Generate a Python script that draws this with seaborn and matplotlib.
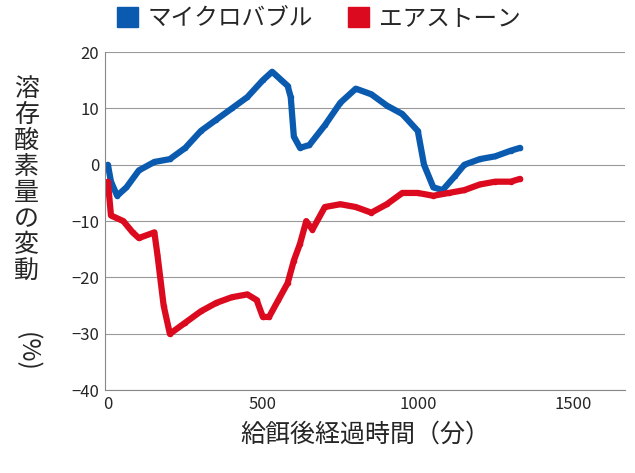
import matplotlib
matplotlib.use("Agg")
import matplotlib.pyplot as plt
import seaborn as sns
import pandas as pd
from matplotlib.patches import Patch

sns.set_style("white")
plt.rcParams['font.family'] = ['Noto Sans CJK JP', 'DejaVu Sans']

blue_x = [0,10,30,60,100,150,200,250,300,350,400,450,500,530,560,580,590,600,620,650,700,750,800,850,900,950,1000,1020,1050,1080,1120,1150,1200,1250,1300,1330]
blue_y = [0,-3,-5.5,-4,-1,0.5,1,3,6,8,10,12,15,16.5,15,14,12,5,3,3.5,7,11,13.5,12.5,10.5,9,6,0,-4,-4.5,-2,0,1,1.5,2.5,3]
red_x = [0,10,50,80,100,150,160,180,200,250,300,350,400,450,480,500,520,550,580,600,620,640,660,700,750,800,850,900,950,1000,1050,1100,1150,1200,1250,1300,1330]
red_y = [-3,-9,-10,-12,-13,-12,-16,-25,-30,-28,-26,-24.5,-23.5,-23,-24,-27,-27,-24,-21,-17,-14,-10,-11.5,-7.5,-7,-7.5,-8.5,-7,-5,-5,-5.5,-5,-4.5,-3.5,-3,-3,-2.5]
labels = ["マイクロバブル", "エアストーン"]
colors = ["#0a5bb0", "#dc0a1e"]

fig = plt.figure(figsize=(6.35, 4.73), dpi=100)
ax = fig.add_axes([0.165, 0.175, 0.82, 0.715])
sns.lineplot(x=blue_x, y=blue_y, ax=ax, color=colors[0], linewidth=4.5, marker="o", markersize=4, markeredgewidth=0)
sns.lineplot(x=red_x, y=red_y, ax=ax, color=colors[1], linewidth=4.5, marker="o", markersize=4, markeredgewidth=0)
ax.set_xlim(-10, 1670)
ax.set_ylim(-40, 20)
ax.set_xticks([0, 500, 1000, 1500])
ax.set_yticks(range(-40, 21, 10))
ax.tick_params(labelsize=12, length=0, pad=4)
ax.yaxis.grid(True, color="#999999", linewidth=0.8)
for s in ["top", "right"]:
    ax.spines[s].set_visible(False)
for s in ["left", "bottom"]:
    ax.spines[s].set_color("#888888")
ax.set_xlabel("給餌後経過時間（分）", fontsize=18, labelpad=6)
fig.text(0.022, 0.62, "\n".join("溶存酸素量の変動"), fontsize=18, va="center", ha="left", linespacing=1.0)
fig.text(0.022, 0.255, "(%)", fontsize=18, rotation=-90, va="center", ha="left")
handles = [Patch(color=c) for c in colors]
fig.legend(handles, labels, loc="upper left", bbox_to_anchor=(0.15, 1.03), ncol=2, frameon=False,
           fontsize=17, handlelength=0.9, handleheight=0.9, columnspacing=1.5, handletextpad=0.4)
fig.savefig("out.png", dpi=100)
